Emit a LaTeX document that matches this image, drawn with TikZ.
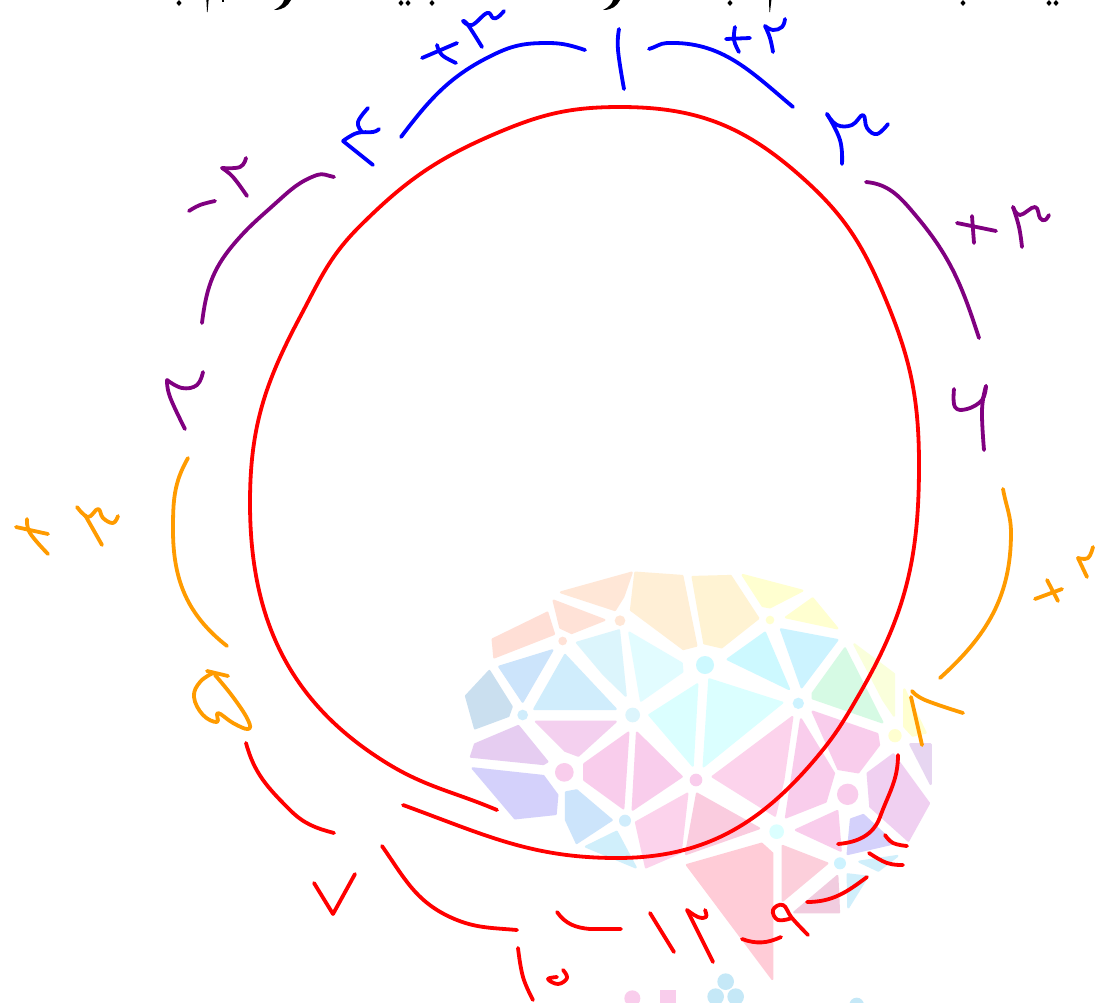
\documentclass[tikz,border=0pt]{standalone}
\newcommand\sk[2]{\draw[#1] plot[smooth,tension=.7] coordinates {#2};}
\newcommand\pg[2]{\filldraw[fill=#1!92!white,draw=#1!92!white,line width=2.2pt,line join=round] #2 -- cycle;}
\tikzset{ink/.style={line width=3.8pt,line cap=round,line join=round},
 rd/.style={ink,draw={rgb,255:red,255;green,0;blue,0}},
 bl/.style={ink,draw={rgb,255:red,0;green,0;blue,255}},
 pu/.style={ink,draw={rgb,255:red,128;green,0;blue,128}},
 og/.style={ink,draw={rgb,255:red,255;green,155;blue,0}}}
\begin{document}
\begin{tikzpicture}[x=1pt,y=-1pt]
\useasboundingbox (0,0) rectangle (1095,1002);
\clip (0,0) rectangle (1095,1002);
\fill[white] (0,0) rectangle (1095,1002);
% pale logo
\begin{scope}[shift={(450,560)},x=0.33333pt,y=-0.33333pt]
\definecolor{c1}{HTML}{FFE5D4}\definecolor{c2}{HTML}{FFDFD4}\definecolor{c3}{HTML}{FFDCD2}
\definecolor{c4}{HTML}{FFEED2}\definecolor{c5}{HTML}{FFF2CF}\definecolor{c6}{HTML}{FFFFCC}
\definecolor{c7}{HTML}{D9F4FC}\definecolor{c8}{HTML}{E0FCFF}\definecolor{c9}{HTML}{C9F8FF}
\definecolor{c10}{HTML}{C8F2FF}\definecolor{c11}{HTML}{C8E2FB}\definecolor{c12}{HTML}{CCEBFC}
\definecolor{c13}{HTML}{C5DCEE}\definecolor{c14}{HTML}{D2FAE2}\definecolor{c15}{HTML}{FAFFD8}
\definecolor{c16}{HTML}{D8FFFF}\definecolor{c17}{HTML}{F3CCEE}\definecolor{c18}{HTML}{E4C9F0}
\definecolor{c19}{HTML}{D0CDFB}\definecolor{c20}{HTML}{F9C9EA}\definecolor{c21}{HTML}{FCCFEA}
\definecolor{c22}{HTML}{EFCCF0}\definecolor{c23}{HTML}{E5D2F0}\definecolor{c24}{HTML}{FAC8DC}
\definecolor{c25}{HTML}{FFC8D4}\definecolor{c26}{HTML}{FCCBD8}\definecolor{c27}{HTML}{F0C8DC}
\definecolor{c28}{HTML}{CCEEFB}\definecolor{c29}{HTML}{C0E6F6}
\pg{c1}{(333,97)--(545,38)--(520,110)--(495,150)}
\pg{c2}{(311,122)--(463,180)--(365,219)--(331,203)}
\pg{c3}{(128,238)--(292,158)--(312,222)--(133,292)}
\pg{c4}{(556,38)--(697,48)--(739,257)--(700,267)--(543,150)}
\pg{c5}{(728,51)--(842,48)--(925,175)--(815,262)--(763,250)}
\pg{c6}{(878,45)--(1057,92)--(960,142)--(938,138)}
\pg{c6}{(1088,115)--(1162,205)--(1008,172)}
\pg{c7}{(381,248)--(507,211)--(527,407)--(460,342)}
\pg{c8}{(538,218)--(695,310)--(697,335)--(573,422)}
\pg{c9}{(833,298)--(945,218)--(1017,387)}
\pg{c10}{(993,208)--(1162,240)--(1055,382)}
\pg{c11}{(148,320)--(307,271)--(218,425)}
\pg{c12}{(345,285)--(497,447)--(253,447)}
\pg{c13}{(48,408)--(118,333)--(185,440)--(175,468)--(75,505)}
\pg{c14}{(1185,265)--(1297,487)--(1088,415)--(1088,400)}
\pg{c15}{(1213,253)--(1332,342)--(1332,467)--(1300,420)}
\pg{c6}{(1363,388)--(1427,518)--(1388,527)--(1363,500)}
\pg{c16}{(598,465)--(742,373)--(728,617)}
\pg{c16}{(778,358)--(997,428)--(761,619)}
\pg{c17}{(258,485)--(497,485)--(385,587)--(345,572)}
\pg{c18}{(63,590)--(75,553)--(205,498)--(292,605)--(280,612)}
\pg{c19}{(68,625)--(280,648)--(322,705)--(317,762)--(195,775)}
\pg{c11}{(348,697)--(380,691)--(485,780)--(380,849)--(348,780)}
\pg{c20}{(403,612)--(535,518)--(520,745)--(403,660)}
\pg{c20}{(561,518)--(695,650)--(548,749)}
\pg{c21}{(788,650)--(1027,471)--(1000,660)--(975,767)}
\pg{c20}{(1053,478)--(1152,640)--(1127,725)--(1008,772)}
\pg{c20}{(1088,455)--(1282,522)--(1287,555)--(1225,637)--(1165,627)}
\pg{c22}{(1253,640)--(1330,583)--(1437,730)--(1375,842)--(1261,740)}
\pg{c23}{(1381,553)--(1442,553)--(1442,672)}
\pg{c20}{(1038,810)--(1162,753)--(1172,872)}
\pg{c19}{(1203,778)--(1240,765)--(1332,850)--(1193,882)}
\pg{c28}{(1228,905)--(1342,888)--(1285,932)}
\pg{c28}{(1193,943)--(1252,950)--(1195,1042)}
\pg{c21}{(558,787)--(712,701)--(692,877)--(588,922)}
\pg{c24}{(741,701)--(927,805)--(708,882)}
\pg{c25}{(711,915)--(935,851)--(967,880)--(967,1257)}
\pg{c26}{(998,858)--(1132,910)--(998,1022)}
\pg{c27}{(1162,948)--(1167,1057)--(1033,1057)}
\pg{c28}{(408,860)--(500,815)--(557,922)}
\fill[c2!92!white] (338,243) circle (13);
\fill[c1!92!white] (510,182) circle (16);
\fill[c9!92!white] (765,315) circle (27);
\fill[c6!92!white] (960,180) circle (13);
\fill[c10!92!white] (1045,430) circle (17);
\fill[c6!92!white] (1335,527) circle (20);
\fill[c12!92!white] (218,465) circle (16);
\fill[c7!92!white] (548,465) circle (22);
\fill[c20!92!white] (343,637) circle (28);
\fill[c20!92!white] (738,660) circle (19);
\fill[c12!92!white] (525,782) circle (18);
\fill[c20!92!white] (1193,703) circle (32);
\fill[c16!92!white] (980,815) circle (22);
\fill[c10!92!white] (1170,910) circle (18);
\fill[c29!92!white] (827,1265) circle (25);
\fill[c29!92!white] (797,1310) circle (25);
\fill[c29!92!white] (857,1310) circle (25);
\fill[c20!92!white] (547,1315) circle (24);
\fill[c20!92!white] (630,1290) rectangle (678,1340);
\fill[c29!92!white] (1220,1335) circle (22);
\end{scope}
% cut-off line of print at the top
\foreach \px/\py in {179/3,401/3,408/3,432/3,730/3,963/3,1049/3,1056/3}
 \fill[black] (\px-2.6,\py) -- (\px,\py-3) -- (\px+2.6,\py) -- (\px,\py+3) -- cycle;
\fill[black] (222,-1) rectangle (224,2);
\fill[black] (206.4,0) -- (208.6,0) -- (207.6,12) -- (207,12) -- cycle;
\fill[black] (769,0) -- (771.4,0) -- (770,12) -- (769.4,12) -- cycle;
\fill[black] (284,0) -- (291,0) .. controls (288,6) and (283,10) .. (274,10) .. controls (280,7) and (283,4) .. cycle;
\fill[black] (613,0) -- (620,0) .. controls (617,6) and (612,10) .. (603,10) .. controls (609,7) and (612,4) .. cycle;
% main ring
\draw[rd] (403,805) to[out=-20,in=180] (617,858) to[out=0,in=230] (817,757) to[out=50,in=240] (860,693) to[out=60,in=270] (919,465) to[out=90,in=-67] (883,293) to[out=113,in=-41] (797,173) to[out=139,in=0] (620,107) to[out=180,in=23] (497,133) to[out=203,in=45] (359,227) to[out=225,in=62] (300,317) to[out=242,in=90] (250,503) to[out=270,in=148] (385,762) to[out=-32,in=157] (497,810);
% blue
\draw[bl] (401,137) to[out=53,in=205] (497,53) to[out=25,in=180] (548,43) to[out=0,in=162] (585,50);
\draw[bl] (649,49) to[out=15,in=182] (667,43) to[out=2,in=140] (793,107);
\sk{bl}{(619,29)(618,50)(624,89)}
\sk{bl}{(422,58)(457,43)}
\sk{bl}{(437,45)(442,55)(456,63)}
\sk{bl}{(482,47)(468,25)(463,21)}
\sk{bl}{(463,21)(472,25)(487,13)(493,18)(498,17)(504,11)}
\sk{bl}{(373,165)(343,141)}
\sk{bl}{(343,141)(357,133)(373,132)(379,129)}
\sk{bl}{(368,108)(358,122)(362,132)}
\sk{bl}{(726,39)(750,38)}
\sk{bl}{(735,27)(734,40)(739,52)}
\sk{bl}{(765,26)(773,30)(782,27)(785,19)}
\sk{bl}{(765,26)(770,38)(773,52)}
\sk{bl}{(827,114)(840,140)(842,164)}
\sk{bl}{(827,114)(837,125)(852,125)(863,115)(867,128)(877,134)(888,124)}
% purple
\draw[pu] (202,323) to[out=83,in=230] (233,245) to[out=50,in=222] (277,202) to[out=42,in=200] (317,175) to[out=20,in=170] (334,177);
\sk{pu}{(189,211)(200,205)(215,201)}
\sk{pu}{(246,158)(240,167)(222,168)}
\sk{pu}{(222,168)(233,177)(247,196)}
\sk{pu}{(203,372)(197,385)(182,388)(167,380)}
\sk{pu}{(167,380)(170,397)(185,429)}
\draw[pu] (866,182) to[out=-5,in=130] (917,217) to[out=-50,in=108] (979,338);
\sk{pu}{(957,223)(996,231)}
\sk{pu}{(972,216)(974,243)}
\sk{pu}{(1013,207)(1019,227)(1022,247)}
\sk{pu}{(1013,207)(1020,215)(1035,207)(1040,218)(1045,220)(1049,215)}
\sk{pu}{(986,386)(982,400)(967,409)(955,407)(954,389)}
\sk{pu}{(986,386)(982,410)(984,450)}
% orange
\draw[og] (1003,489) to[out=-80,in=90] (1011,533) to[out=-90,in=42] (940,678);
\sk{og}{(1035,599)(1062,589)}
\sk{og}{(1047,580)(1058,601)}
\sk{og}{(1093,547)(1088,558)(1078,558)}
\sk{og}{(1078,558)(1087,577)}
\sk{og}{(912,691)(925,700)(963,713)}
\sk{og}{(911,697)(922,745)}
\draw[og] (188,458) to[out=240,in=90] (173,530) to[out=270,in=142] (227,646);
\sk{og}{(16,527)(48,534)}
\sk{og}{(27,519)(30,533)(48,554)}
\sk{og}{(77,507)(88,517)(98,509)(103,518)(113,523)(118,516)}
\sk{og}{(85,515)(102,545)}
\sk{og}{(207,671)(228,676)}
\sk{og}{(213,673)(200,682)(194,697)(203,715)(217,722)(218,713)(233,723)(248,729)(248,720)(233,697)(215,675)}
% red strokes
\draw[rd] (246,743) to[out=-75,in=135] (290,810) to[out=-45,in=165] (334,833);
\draw[rd] (314,883) -- (333,914) -- (355,874);
\draw[rd] (382,846) to[out=-55,in=155] (450,917) to[out=-25,in=175] (517,930);
\sk{rd}{(518,948)(523,977)(533,1000)}
\sk{rd}{(563,970)(567,978)(558,984)(548,979)(557,977)}
\draw[rd] (557,912) to[out=-55,in=175] (590,929) -- (621,929);
\sk{rd}{(650,913)(674,952)}
\sk{rd}{(687,910)(713,962)}
\sk{rd}{(687,910)(698,917)(706,917)(705,910)}
\draw[rd] (742,939) to[out=-20,in=205] (781,937);
\sk{rd}{(808,935)(792,918)(783,905)(773,910)(778,920)(792,918)}
\draw[rd] (807,902) to[out=0,in=217] (867,877);
\sk{rd}{(869,853)(887,863)(903,865)}
\sk{rd}{(885,835)(893,843)(907,846)}
\draw[rd] (898,755) to[out=-90,in=70] (880,817) to[out=250,in=5] (838,844);
\end{tikzpicture}
\end{document}
